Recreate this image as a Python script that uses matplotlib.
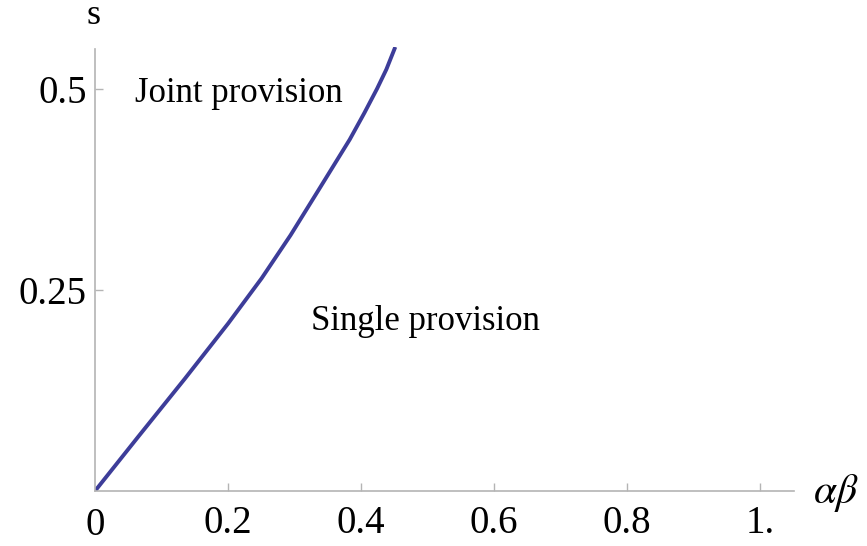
import matplotlib.pyplot as plt

# boundary curve s(alpha*beta)
ab = [0.0, 0.065, 0.135, 0.2005, 0.2506, 0.294, 0.336, 0.383, 0.405, 0.424, 0.438, 0.4515]
s = [0.0, 0.0675, 0.1395, 0.2086, 0.2645, 0.318, 0.374, 0.437, 0.470, 0.500, 0.524, 0.552]

x_ticks = [0.2, 0.4, 0.6, 0.8, 1.0]
x_tick_labels = ['0.2', '0.4', '0.6', '0.8', '1.']
y_ticks = [0.25, 0.5]
y_tick_labels = ['0.25', '0.5']

plt.rcParams['font.family'] = ['Liberation Serif', 'DejaVu Serif']
plt.rcParams['mathtext.fontset'] = 'stix'

W, H = 867, 546
fig = plt.figure(figsize=(W / 100, H / 100), dpi=100)
ax = fig.add_axes([95 / W, (H - 491) / H, (794 - 95) / W, (491 - 47) / H])

ax.plot(ab, s, color='#3d3d99', lw=2.8, solid_capstyle='butt',
        solid_joinstyle='round')
ax.set_xlim(0, 1.051)
ax.set_ylim(0, 0.552)

for side in ['top', 'right']:
    ax.spines[side].set_visible(False)
for side in ['left', 'bottom']:
    ax.spines[side].set_color('#b4b4b4')
    ax.spines[side].set_linewidth(1.2)
ax.spines['left'].set_bounds(0, 0.55)

ax.set_xticks(x_ticks, x_tick_labels)
ax.set_yticks(y_ticks, y_tick_labels)
ax.tick_params(direction='in', length=6, width=1.0, color='#b4b4b4',
               labelsize=28, labelcolor='black')
ax.tick_params(axis='x', pad=10)
ax.tick_params(axis='y', pad=6)
# label at the origin
ax.text(0, -0.02, '0', transform=ax.transData, ha='center', va='top',
        fontsize=28)

ax.text(0.06, 0.494, 'Joint provision', fontsize=25, va='center', ha='left')
ax.text(0.325, 0.211, 'Single provision', fontsize=25, va='center', ha='left')

fig.text(94 / W, 1 - 15 / H, 's', fontsize=26, ha='center', va='center')
fig.text(836 / W, 1 - 493 / H, r'$\alpha\beta$', fontsize=30, ha='center', va='center')

fig.savefig('out.png', dpi=100)
